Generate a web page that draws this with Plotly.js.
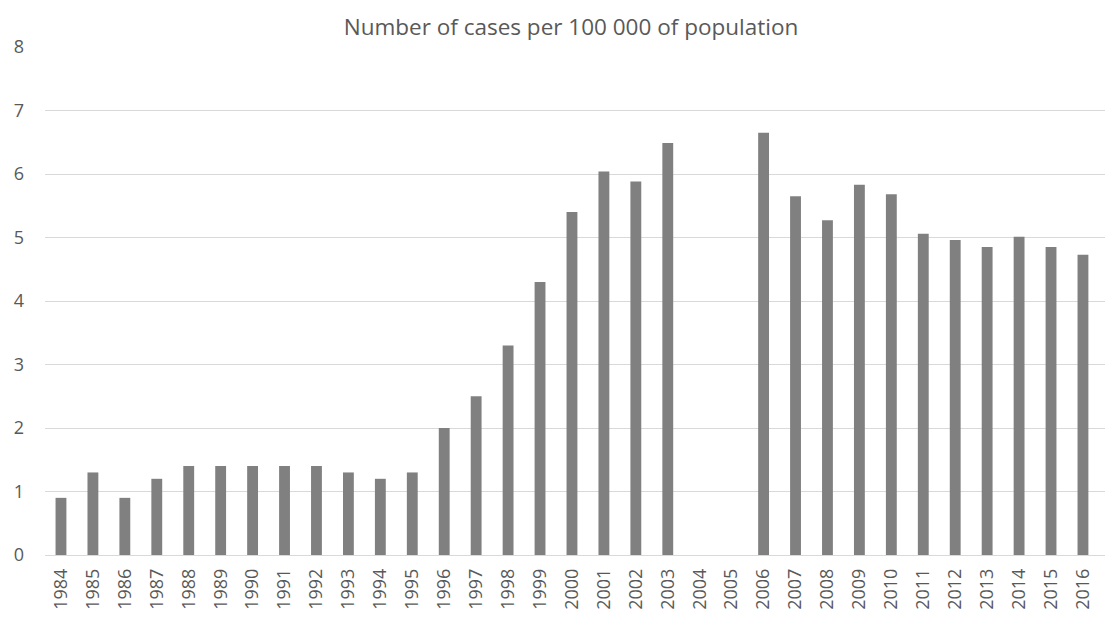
<!DOCTYPE html>
<html>
<head>
<meta charset="utf-8">
<script src="https://cdn.plot.ly/plotly-3.0.1.min.js"></script>
<style>html,body{margin:0;padding:0;background:#fff;}#chart{width:1113px;height:617px;}</style>
</head>
<body>
<div id="chart"></div>
<script>
const years = ["1984","1985","1986","1987","1988","1989","1990","1991","1992","1993","1994","1995","1996","1997","1998","1999","2000","2001","2002","2003","2004","2005","2006","2007","2008","2009","2010","2011","2012","2013","2014","2015","2016"];
const cases = [0.9,1.3,0.9,1.2,1.4,1.4,1.4,1.4,1.4,1.3,1.2,1.3,2.0,2.5,3.3,4.3,5.4,6.04,5.88,6.49,null,null,6.65,5.65,5.27,5.83,5.68,5.06,4.96,4.85,5.01,4.85,4.73];
const yTicks = [0,1,2,3,4,5,6,7,8];
const chartTitle = "Number of cases per 100 000 of population";

const font = "'Open Sans', Lato, sans-serif";
Plotly.newPlot("chart", [{
  type: "bar",
  x: years,
  y: cases,
  marker: {color: "#808080"},
  hoverinfo: "x+y"
}], {
  width: 1113, height: 617,
  paper_bgcolor: "#fff", plot_bgcolor: "#fff",
  margin: {l: 45, r: 8, t: 47, b: 62},
  bargap: 0.66,
  showlegend: false,
  title: {text: chartTitle, font: {family: font, size: 22.5, color: "#595959"}, x: 0.513, xanchor: "center", y: 0.956, yanchor: "middle"},
  xaxis: {
    type: "category",
    range: [-0.5, 32.69],
    tickangle: -90,
    tickfont: {family: font, size: 18, color: "#595959"},
    showgrid: false, zeroline: false, showline: false,
    ticks: "", ticklen: 0, ticklabelstandoff: 9,
    automargin: false
  },
  yaxis: {
    range: [0, 8],
    tickvals: yTicks,
    tickfont: {family: font, size: 18, color: "#595959"},
    showgrid: true, gridcolor: "#d9d9d9", gridwidth: 1,
    zeroline: true, zerolinecolor: "#d9d9d9", zerolinewidth: 1,
    showline: false, ticks: "", ticklabelstandoff: 20,
    automargin: false
  }
}, {displayModeBar: false, staticPlot: true});
</script>
</body>
</html>
